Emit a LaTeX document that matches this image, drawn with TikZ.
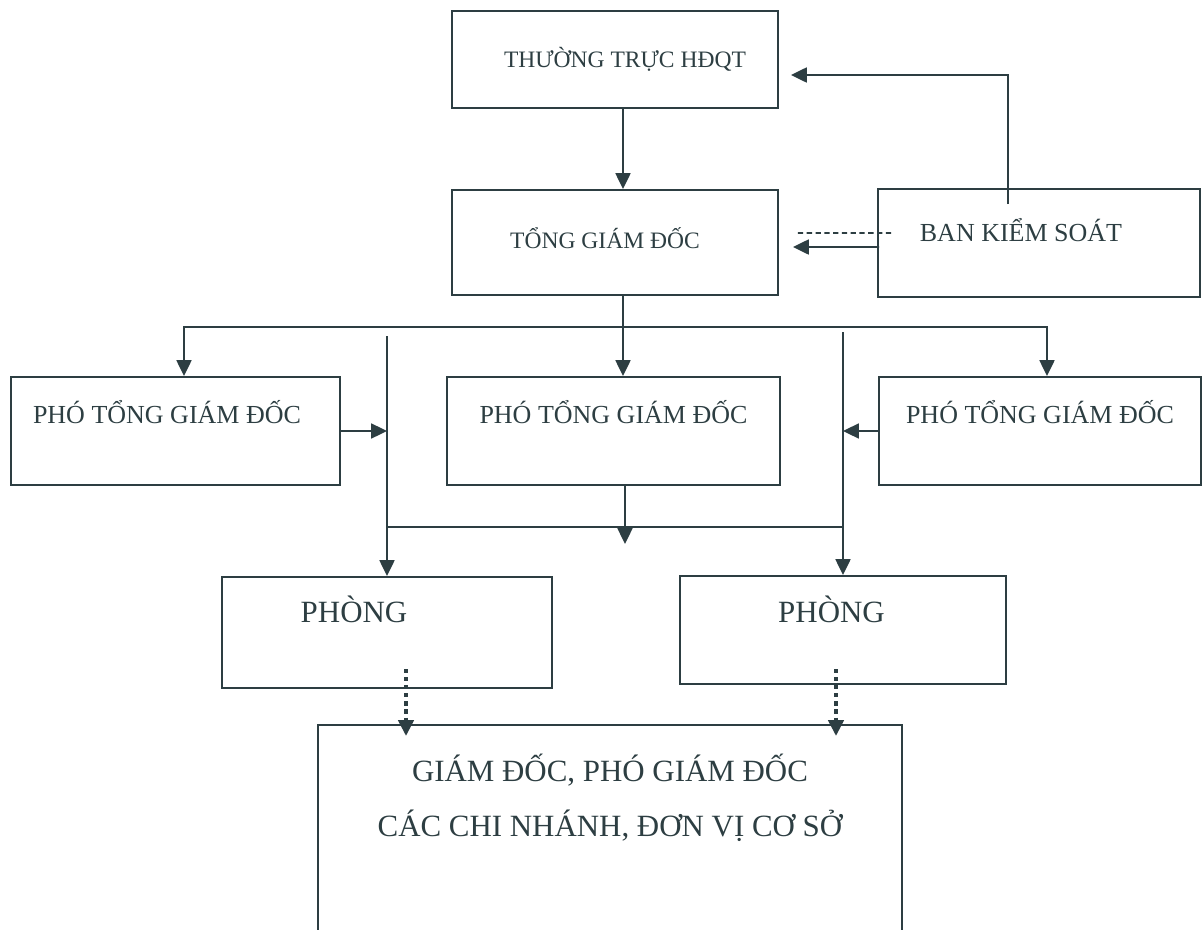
\documentclass[tikz,border=0pt]{standalone}
\usepackage{fontspec}
\setmainfont{Liberation Serif}
\definecolor{ink}{RGB}{45,62,66}
\usetikzlibrary{positioning,arrows.meta,calc}

\tikzset{
  box/.style={draw, line width=1.1pt, inner sep=0pt, anchor=base},
  txtS/.style={font=\fontsize{13.4}{16}\selectfont},
  txtM/.style={font=\fontsize{14.8}{18}\selectfont},
  txtL/.style={font=\fontsize{17.6}{21}\selectfont},
  dotline/.style={line width=2.4pt, dash pattern=on 2.4pt off 2.2pt},
}

\begin{document}
\begin{tikzpicture}[x=0.02cm, y=-0.02cm, color=ink, line width=1.1pt,
    >={Triangle[length=9pt,width=8.5pt]}]
    \useasboundingbox (0,0) rectangle (1204,930);

    % top level
    \node[box,txtS,minimum width=6.52cm,text height=1.12cm,text depth=0.82cm] (hdqt) at (615,67) {\hspace*{0.4cm}THƯỜNG TRỰC HĐQT};
    \node[box,txtS,minimum width=6.52cm,text height=1.16cm,text depth=0.94cm] (tgd) at (615,248) {TỔNG GIÁM ĐỐC\hspace*{0.4cm}};
    \node[box,txtM,minimum width=6.44cm,text height=1.04cm,text depth=1.12cm] (bks) at (1039,241) {BAN KIỂM SOÁT\hspace*{0.72cm}};

    % deputies
    \node[box,txtM,minimum width=6.58cm,text height=0.92cm,text depth=1.24cm] (pho1) at (175.5,423) {PHÓ TỔNG GIÁM ĐỐC\hspace*{0.34cm}};
    \node[box,txtM,minimum width=6.66cm,text height=0.92cm,text depth=1.24cm] (pho2) at (613.5,423) {PHÓ TỔNG GIÁM ĐỐC};
    \node[box,txtM,minimum width=6.44cm,text height=0.92cm,text depth=1.24cm] (pho3) at (1040,423) {PHÓ TỔNG GIÁM ĐỐC};

    % departments
    \node[box,txtL,minimum width=6.6cm,text height=0.9cm,text depth=1.32cm] (phong1) at (387,622) {PHÒNG\hspace*{1.32cm}};
    \node[box,txtL,minimum width=6.52cm,text height=0.92cm,text depth=1.24cm] (phong2) at (843,622) {PHÒNG\hspace*{0.46cm}};

    % branches (runs off the page)
    \node[box,txtL,minimum width=11.68cm,text height=1.12cm,text depth=3.6cm] (bottom) at (610,781)
        {\begin{tabular}[t]{c}GIÁM ĐỐC, PHÓ GIÁM ĐỐC\\[10pt] CÁC CHI NHÁNH, ĐƠN VỊ CƠ SỞ\end{tabular}};

    % board -> ceo, supervisory board
    \draw[->] ([shift={(8,0)}]hdqt.south) -- ([shift={(8,0)}]tgd.north);
    \draw[->] ([shift={(-31,16)}]bks.north) |- ([shift={(12,15.5)}]hdqt.east);
    \draw[line width=1.1pt, dash pattern=on 3pt off 2pt] ([shift={(14,-10)}]bks.west) -- ([shift={(18,-9.5)}]tgd.east);
    \draw[->] ([shift={(2,4)}]bks.west) -- ([shift={(14,4.5)}]tgd.east);

    % ceo -> deputies
    \coordinate (busL) at (184,327);
    \coordinate (busR) at (1047,327);
    \draw[->] ([shift={(8,0)}]tgd.south) -- ([shift={(9.5,0)}]pho2.north);
    \draw[<->] (busL |- pho1.north) -- (busL) -- (busR) -- (busR |- pho3.north);

    % deputies -> departments
    \coordinate (colL) at (387,336);
    \coordinate (colR) at (843,332);
    \draw[->] (colL) -- (colL |- phong1.north);
    \draw[->] (colR) -- (colR |- phong2.north);
    \draw[->] (pho1.east) -- (pho1.east -| colL);
    \draw[->] (pho3.west) -- (pho3.west -| colR);
    \coordinate (join) at (625,527);
    \draw (join -| colL) -- (join -| colR);
    \draw[->] ([shift={(11.5,0)}]pho2.south) -- ([shift={(0,17)}]join);

    % departments -> branches
    \coordinate (d1) at (406,669);
    \coordinate (d2) at (836,669);
    \draw[dotline,->,shorten >=-0.24cm] (d1) -- (d1 |- bottom.north);
    \draw[dotline,->,shorten >=-0.24cm] (d2) -- (d2 |- bottom.north);
\end{tikzpicture}
\end{document}
